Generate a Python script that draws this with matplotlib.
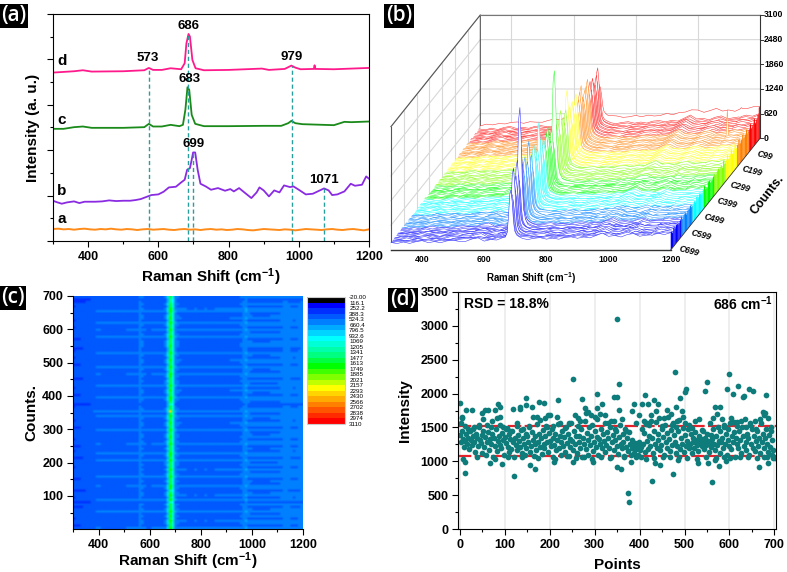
import numpy as np
import matplotlib
matplotlib.use('Agg')
import matplotlib.pyplot as plt
from matplotlib.colors import ListedColormap, BoundaryNorm
from matplotlib.ticker import MultipleLocator

plt.rcParams['font.family'] = ['Liberation Sans', 'DejaVu Sans']
plt.rcParams['font.weight'] = 'bold'
plt.rcParams['axes.labelweight'] = 'bold'
plt.rcParams['mathtext.fontset'] = 'custom'
plt.rcParams['mathtext.bf'] = 'Liberation Sans:bold'
plt.rcParams['mathtext.default'] = 'bf'
plt.rcParams['axes.linewidth'] = 0.8

FIG_W, FIG_H = 787, 572
AXIS_LABEL = 'Raman Shift (cm$^{-1}$)'

# (a) spectra
shift_a = list(range(300, 1201, 15))
curve_a = [36, 37, 35, 36, 34, 36, 37, 35, 34, 36, 35, 37, 35, 34, 36, 35, 33, 35, 36, 34, 35, 36, 34, 33, 35,
           36, 34, 35, 33, 35, 36, 34, 35, 33, 34, 36, 35, 33, 32, 34, 36, 35, 34, 33, 35, 34, 32, 34, 36, 35,
           34, 33, 35, 36, 34, 33, 35, 36, 34, 32, 35]
shift_b = [300, 310, 325, 340, 360, 375, 390, 420, 440, 460, 480, 500, 520, 535, 550, 565, 580, 600, 615, 630,
           650, 665, 675, 682, 690, 695, 699, 705, 712, 720, 735, 750, 770, 790, 805, 815, 830, 845, 865, 880,
           888, 900, 915, 930, 945, 958, 975, 985, 1000, 1020, 1040, 1060, 1072, 1085, 1095, 1110, 1130, 1148,
           1160, 1180, 1192, 1200]
curve_b = [121, 117, 112, 116, 119, 114, 118, 118, 119, 122, 120, 121, 121, 123, 126, 132, 138, 140, 148, 161,
           163, 176, 184, 214, 219, 244, 266, 266, 214, 172, 164, 154, 159, 151, 156, 149, 159, 146, 129, 146,
           161, 152, 134, 152, 146, 167, 162, 164, 154, 140, 142, 152, 158, 152, 138, 140, 149, 172,
           166, 169, 194, 187]
shift_c = [300, 330, 360, 385, 410, 500, 560, 573, 585, 610, 635, 660, 670, 677, 683, 688, 695, 705, 730, 800,
           900, 950, 970, 979, 990, 1010, 1100, 1130, 1150, 1200]
curve_c = [337, 337, 342, 344, 340, 340, 342, 352, 344, 344, 349, 345, 349, 394, 462, 454, 379, 352, 345, 345,
           346, 346, 354, 361, 354, 351, 348, 358, 357, 359]
shift_d = [300, 330, 360, 385, 410, 500, 560, 573, 585, 610, 635, 665, 675, 680, 686, 690, 697, 706, 730, 800,
           895, 915, 960, 979, 990, 1005, 1043, 1045, 1047, 1100, 1200]
curve_d = [506, 508, 510, 513, 509, 510, 513, 520, 514, 514, 519, 516, 534, 594, 622, 614, 544, 519, 513, 514,
           518, 514, 517, 527, 521, 516, 517, 528, 517, 516, 520]
band_shift = [573, 685, 700, 981, 1071]
band_top = [520, 622, 266, 527, 158]
peak_names = ['573', '686', '979', '683', '699', '1071']
peak_x = [569, 687, 981, 689, 700, 1072]
peak_y = [549, 646, 554, 486, 292, 184]
curve_names = ['a', 'b', 'c', 'd']
curve_name_y = [67, 149, 364, 541]

# (b) waterfall
wave_b = [300, 320, 340, 360, 380, 400, 420, 440, 460, 480, 500, 520, 540, 560, 580, 600, 620, 640, 660,
          668, 674, 678, 682, 686, 690, 694, 698, 704, 712, 724,
          740, 760, 780, 800, 820, 840, 860, 880, 900, 920, 940, 960, 980, 1000, 1020, 1040, 1060, 1080, 1100,
          1120, 1136, 1140, 1144, 1160, 1180, 1200]
base_b = [170, 175, 180, 185, 200, 205, 200, 205, 210, 215, 220, 225, 235, 250, 270, 245, 250, 265, 280,
          290, 300, 305, 310, 310, 310, 305, 300, 295, 290, 285,
          280, 280, 285, 285, 290, 295, 300, 300, 310, 315, 325, 350, 385, 355, 345, 345, 355, 365, 360,
          360, 380, 385, 388, 395, 400, 420]
peak_shape = [0, 0, 0, 0, 0, 0, 0, 0, 0, 0, 0, 0, 0, 0, 0, 0, 0, 0, .01,
              .03, .12, .45, .9, 1, .75, .35, .15, .07, .03, .01,
              0, 0, 0, 0, 0, 0, 0, 0, 0, 0, 0, 0, 0, 0, 0, 0, 0, 0, 0,
              0, 0, 0, 0, 0, 0, 0]
ripple_1 = [18, -12, 22, -20, 9, 30, -15, 6, -26, 14, 24, -9, -18, 26, 36, -22, 12, -14, 20,
            0, 0, 0, 0, 0, 0, 0, 0, 0, 8, -9,
            -18, 15, 26, -12, 9, -24, 18, 30, -15, 12, -20, 15, 40, -12, 20, -18, 32, 50, -15,
            12, 0, -20, 0, 24, -12, 18]
ripple_2 = [-15, 20, -9, 15, -24, 6, 26, -18, 12, -8, -20, 18, 30, -12, 15, 9, -26, 20, -6,
            0, 0, 0, 0, 0, 0, 0, 0, 0, -9, 12,
            20, -15, -9, 24, -18, 12, -20, -6, 26, -15, 18, -18, -30, 24, -15, 30, 65, -22, 15,
            -18, 0, 24, 0, -15, 20, -9]
ripple_3 = [6, 15, -20, -6, 24, -18, 9, 20, -12, -24, 12, 20, -9, 6, -15, -12, 24, -20, 9,
            0, 0, 0, 0, 0, 0, 0, 0, 0, 12, 6,
            -9, 6, -24, 15, 20, -9, -12, 18, -24, 20, -6, 36, 15, -20, 12, -9, -26, 45, 6,
            20, 0, -9, 0, -18, 9, -20]
peak_top_b = [1507, 1350, 1977, 1500, 1700, 2050, 1650, 3300, 2260, 1800,
              1600, 1900, 1500, 1700, 2170, 1550, 1750, 1400, 1926, 1600,
              1500, 1700, 2337, 1650, 1884, 1500, 1700, 1550, 1800, 1926,
              1600, 1500, 1750, 1400, 3140, 1500, 1650, 1800, 1500, 1943,
              1600, 1700, 1500, 1800, 2253, 1600, 1750, 1500, 1809, 1600,
              1700, 1876, 1500, 1650, 1800, 1926, 1600, 1500, 1700, 1750,
              1884, 1600, 1750, 1500, 1750, 1600, 1500, 1700, 1851, 1400, 1300]
level_b = [1.0, 1.06, .96, 1.08, .98, 1.12, 1.0, .96, 1.1, 1.14,
           1.0, 1.16, 1.06, .98, 1.14, 1.02, 1.2, 1.06, .98, 1.16,
           1.04, 1.2, 1.06, 1.24, 1.08, 1.0, 1.2, 1.26, 1.04, 1.02,
           1.2, 1.28, 1.1, 1.02, 1.22, 1.3, 1.08, 1.26, 1.34, 1.1,
           1.28, 1.1, 1.36, 1.14, 1.26, 1.4, 1.14, 1.3, 1.42, 1.16,
           1.32, 1.44, 1.2, 1.34, 1.46, 1.2, 1.34, 1.48, 1.24, 1.36,
           1.5, 1.24, 1.38, 1.52, 1.26, 1.4, 1.54, 1.28, 1.44, 1.52, 1.95]
count_b = list(range(0, 700, 10)) + [699]
band_colors_b = ['#0000ff', '#0080ff', '#00ffff', '#00ff00', '#80ff00', '#ffff00', '#ff8000', '#ff0000']
spike_trace, spike_wave, spike_height = 59, 1140, 650
raman_ticks_b = [400, 600, 800, 1000, 1200]
z_ticks_b = [0, 620, 1240, 1860, 2480, 3100]
count_names_b = ['C699', 'C599', 'C499', 'C399', 'C299', 'C199', 'C99']
count_pos_b = [0, 100, 200, 300, 400, 500, 600]

# (c) map
wave_c = list(range(300, 1201, 10))
mean_c = [400, 405, 405, 410, 420, 435, 450, 465, 480, 495, 495, 490, 490, 490, 490, 492, 492, 490, 490, 492,
          492, 495, 495, 495, 495, 495, 570, 520, 496, 494, 494, 495, 495, 495, 496, 498, 530, 800, 1580, 1150,
          620, 530, 505, 500, 500, 498, 498, 498, 500, 498, 496, 498, 500, 498, 498, 498, 500, 500, 500, 502,
          502, 502, 505, 505, 508, 508, 515, 600, 640, 540, 520, 515, 515, 515, 518, 518, 518, 518, 520, 525,
          525, 530, 545, 575, 570, 565, 545, 540, 545, 555, 575]
gain_c = [.06, -.05, .02, .05, -.04, .03, -.02, .08, .01, -.06,
          .02, -.16, .07, -.03, .05, .01, -.08, .03, .06, -.02,
          .01, -.05, .07, .02, -.02, .05, -.04, .02, -.01, .08,
          -.06, .03, .07, -.03, .01, -.05, .06, .02, -.04, .03,
          .01, -.02, .08, -.05, .02, .04, -.03, .01, .07, -.02,
          .1, .02, -.04, -.16, -.02, .03, .07, -.05, .01, .04,
          -.03, .08, -.01, .02, -.06, .03, .06, -.02, .01, .07,
          -.05, .02, .04, -.03, .01, .08, -.04, -.06, .03, .02,
          .01, -.05, .07, .02, -.02, .06, -.04, .02, .08, -.03,
          .04, .01, -.02, .07, .05, -.04, .02, -.08, -.14, .02]
spike_row_c, spike_col_c, spike_val_c = 50, 38, 2350
levels_c = [-20.00, 116.1, 252.2, 388.3, 524.3, 660.4, 796.5, 932.6, 1069, 1205, 1341, 1477, 1613, 1749, 1885,
            2021, 2157, 2293, 2430, 2566, 2702, 2838, 2974, 3110]
level_names_c = ['-20.00', '116.1', '252.2', '388.3', '524.3', '660.4', '796.5', '932.6', '1069', '1205', '1341',
                 '1477', '1613', '1749', '1885', '2021', '2157', '2293', '2430', '2566', '2702', '2838', '2974',
                 '3110']
colors_c = ['#000000', '#0000ff', '#0030ff', '#0058ff', '#0080ff', '#00aaff', '#00d4ff', '#00ffff', '#00ffd4',
            '#00ffaa', '#00ff80', '#00ff40', '#00ff00', '#40ff00', '#80ff00', '#c0ff00', '#ffff00', '#ffd400',
            '#ffaa00', '#ff8000', '#ff5500', '#ff2a00', '#ff0000']

# (d) intensity at 686 per point
cloud_y = [1390, 1280, 1450, 1330, 1210, 1520, 1300, 1400, 1260, 1350, 1180, 1440, 1320, 1240,
           1480, 1370, 1290, 1130, 1410, 1340, 1220, 1500, 1310, 1270, 1120, 1390, 1450, 1210,
           1360, 1090, 1280, 1430, 1170, 1330, 1510, 1250, 1400, 1060, 1340, 1220, 1470, 1150,
           1300, 1380, 1240, 1540, 1190, 1420, 1310, 1100, 1360, 1270, 1490, 1210, 1130, 1400,
           1330, 1180, 1440, 1280, 1070, 1350, 1240, 1520, 1160, 1390, 1300, 1210, 1460, 1120,
           1340, 1250, 1100, 1410, 1190, 1370, 1290, 1500, 1140, 1230, 1430, 1320, 1080, 1260,
           1380, 1170, 1550, 1290, 1400, 1210, 1340, 1110, 1460, 1250, 1190, 1370, 1520, 1280,
           1130, 1420, 1300, 1220, 1480, 1060, 1350, 1240, 1410, 1170, 1320, 1550, 1200, 1380,
           1100, 1290, 1450, 1230, 1360, 1140, 1500, 1270, 1410, 1080, 1330, 1210, 1570, 1300,
           1160, 1440, 1250, 1380, 1120, 1520, 1290, 1370, 1200, 1470, 1060, 1340, 1260, 1590,
           1180, 1420, 1310, 1100, 1500, 1240, 1380, 1530, 1150, 1290, 1450, 1210, 1360, 1620,
           1090, 1330, 1260, 1480, 1190, 1400, 1300, 1560, 1130, 1240, 1430, 1350, 1200, 1510,
           1070, 1280, 1390, 1600, 1170, 1320, 1450, 1230, 1110, 1360, 1540, 1260, 1190, 1410,
           1290, 1070, 1480, 1210, 1340, 1150, 1430, 1250, 1090, 1310, 1190, 1220, 1120, 1270,
           1180, 1240, 1100, 1290, 1160, 1210, 1060, 1480, 1250, 1420, 1140, 1550, 1300, 1180,
           1380, 1530, 1220, 1600, 1340, 1120, 1450, 1260, 1580, 1190, 1400, 1310, 1640, 1170,
           1240, 1480, 1360, 1100, 1540, 1280, 1420, 1200, 1660, 1330, 1150, 1460, 1240, 1570,
           1390, 1290, 1120, 1510, 1220, 1440, 1610, 1180, 1340, 1260, 1490, 1130, 1390, 1560,
           1230, 1300, 1470, 1190, 1250, 1410, 1120, 1350, 1280, 1200, 1430, 1310, 1240, 1150,
           1380, 1270, 1330, 1220, 1460, 1290, 1180, 1350, 1240, 1410, 1300, 1140, 1270, 1390,
           1210, 1330, 1480, 1260, 1170, 1370, 1240, 1510, 1300, 1120, 1440, 1280, 1350, 1190,
           1530, 1260, 1400, 1100, 1320, 1470, 1230, 1560, 1180, 1380, 1290, 1430, 1070, 1340,
           1580, 1250, 1190, 1450, 1310, 1120, 1500, 1370, 1230, 1620, 1280, 1160, 1410, 1340,
           1090, 1530, 1260, 1470, 1200, 1380, 1600, 1150, 1300, 1440, 1230, 1350, 1120, 1570,
           1280, 1400, 1190, 1060, 1340, 1480, 1250, 1130, 1390, 1210, 1450, 1090, 1310, 1170]
outer_x = [0, 5, 5, 11, 11, 13, 27, 48, 56, 63, 84, 89, 78, 82, 89, 67, 93, 117, 121, 134, 134, 148, 148, 160, 163,
           171, 176, 186, 156, 167, 189, 197, 200, 219, 215, 251, 256, 271, 210, 251, 278, 286, 297, 304, 304,
           317, 323, 343, 349, 349, 354, 353, 349, 359, 375, 376, 381, 382, 388, 405, 412, 419, 427, 433, 442,
           434, 445, 475, 479, 481, 490, 494, 501, 503, 485, 529, 552, 546, 549, 562, 568, 578, 569, 577, 594,
           599, 607, 593, 620, 631, 633, 644, 653, 666, 681, 687, 674, 679, 701]
outer_y = [1858, 1657, 1632, 993, 821, 1755, 1755, 1706, 1755, 1755, 1853, 1804, 1755, 1632, 1657, 968, 954, 1765,
           787, 1804, 1770, 1937, 1829, 1804, 1657, 1647, 1878, 1868, 944, 885, 1642, 1681, 1681, 1912, 1657, 2212,
           1681, 1917, 993, 993, 1790, 1730, 993, 2001, 1780, 1844, 1681, 1952, 1952, 3107, 2148, 1755, 919, 880,
           531, 393, 983, 1740, 1839, 1839, 1986, 1839, 703, 1902, 1839, 968, 944, 811, 2320, 1804, 1937, 1740,
           2026, 2065, 1018, 978, 978, 2045, 2173, 688, 1804, 1804, 1018, 929, 2065, 2291, 2001, 1003, 2114, 1942,
           1967, 2065, 2035, 910, 1981, 968, 1730, 1706, 1042]
upper_x = [3, 17, 31, 43, 52, 61, 71, 95, 103, 111, 127, 141, 153, 179, 193, 207, 223, 233, 243, 263, 268, 281, 291,
           301, 311, 329, 337, 345, 361, 369, 393, 399, 409, 417, 425, 437, 449, 455, 461, 469, 473, 483, 497, 509,
           517, 523, 533, 541, 557, 563, 573, 583, 589, 603, 611, 617, 625, 637, 647, 659, 669, 677, 685, 693,
           7, 37, 77, 107, 137, 173, 211, 239, 259, 277, 295, 315, 333, 365, 391, 415, 431, 451, 467, 487, 505,
           527, 547, 571, 587, 601, 623, 641, 661, 683, 697]
upper_y = [1560, 1470, 1500, 1530, 1620, 1540, 1600, 1510, 1480, 1450, 1560, 1470, 1520, 1610, 1500, 1520, 1560, 1490,
           1570, 1640, 1600, 1720, 1680, 1650, 1700, 1570, 1600, 1480, 1620, 1450, 1560, 1680, 1600, 1570, 1680,
           1740, 1520, 1640, 1760, 1700, 1540, 1590, 1650, 1540, 1490, 1600, 1620, 1440, 1560, 1640, 1700, 1620,
           1500, 1640, 1580, 1520, 1600, 1500, 1560, 1470, 1620, 1680, 1640, 1500,
           1040, 1060, 1040, 1060, 1070, 1050, 1040, 1080, 1050, 1070, 1040, 1060, 1050, 1080, 1060, 1040, 1050,
           1070, 1060, 1070, 1050, 1040, 1070, 1050, 1060, 1050, 1070, 1060, 1050, 1060, 1050]
rsd_levels = [1520, 1080]


def add_axes_px(fig, left, top, right, bottom):
    return fig.add_axes([left / FIG_W, 1 - bottom / FIG_H, (right - left) / FIG_W, (bottom - top) / FIG_H])


def style_ticks(ax, size=9):
    ax.tick_params(which='major', direction='out', length=4, width=0.8, labelsize=size, pad=3)
    ax.tick_params(which='minor', direction='out', length=2, width=0.8)


def panel_tag(fig, x, y, name):
    fig.text(x / FIG_W, 1 - y / FIG_H, name, color='white', fontsize=15, family='Open Sans', weight='semibold',
             ha='center', va='center', bbox=dict(facecolor='black', edgecolor='none', pad=1.2))


fig = plt.figure(figsize=(FIG_W / 100, FIG_H / 100), dpi=100)

# panel a
ax = add_axes_px(fig, 53, 14, 369, 241)
ax.plot(shift_a, curve_a, color='#ff8c1a', lw=1.4)
ax.plot(shift_b, curve_b, color='#8a2be2', lw=1.3)
ax.plot(shift_c, curve_c, color='#1a8a1a', lw=1.3)
ax.plot(shift_d, curve_d, color='#ff1a8c', lw=1.3)
ax.vlines(band_shift, 0, band_top, color='#2a9d9d', lw=1, linestyles=(0, (3, 2)))
for name, x, y in zip(peak_names, peak_x, peak_y):
    ax.text(x, y, name, fontsize=9.5, ha='center', va='center')
for name, y in zip(curve_names, curve_name_y):
    ax.text(325, y, name, fontsize=11, ha='center', va='center')
ax.set_xlim(300, 1200)
ax.set_ylim(0, 682)
ax.xaxis.set_major_locator(MultipleLocator(200))
ax.xaxis.set_minor_locator(MultipleLocator(100))
ax.yaxis.set_major_locator(MultipleLocator(136.4))
ax.yaxis.set_minor_locator(MultipleLocator(68.2))
ax.set_yticklabels([])
style_ticks(ax)
ax.set_xlabel(AXIS_LABEL, fontsize=11, labelpad=3)
ax.set_ylabel('Intensity (a. u.)', fontsize=11, labelpad=2)

# panel b, oblique view drawn in pixel space of its own axes
ax = add_axes_px(fig, 385, 0, 787, 290)
ax.set_xlim(0, 402)
ax.set_ylim(290, 0)
ax.axis('off')


def project(raman, count, z):
    raman, count, z = np.asarray(raman, float), np.asarray(count, float), np.asarray(z, float)
    return 6 + (raman - 300) * 0.3108 + count * 0.1276, 250 - count * 0.1595 - z * 0.0398


def line3d(r, c, z, **kw):
    px, py = project(r, c, z)
    ax.plot(px, py, **kw)


def draw_trace(count, z, layer):
    band = min(int(count) * 8 // 700, 7)
    px, py = project(wave_arr, count, z)
    bx, by = project(wave_arr, count, np.zeros_like(z))
    ax.fill(np.r_[px, bx[::-1]], np.r_[py, by[::-1]], color='white', lw=0, zorder=layer)
    ax.plot(px, py, color=band_colors_b[band], lw=0.38, alpha=0.8, zorder=layer)


grid_kw = dict(color='#d8d8d8', lw=0.8, zorder=1)
for z in z_ticks_b[1:]:
    line3d([300, 300, 1200], [0, 700, 700], [z, z, z], **grid_kw)
for r in [400, 600, 800, 1000]:
    line3d([r, r], [700, 700], [0, 3100], **grid_kw)
for c in range(100, 700, 100):
    line3d([300, 300], [c, c], [0, 3100], **grid_kw)
line3d([300, 300, 300], [0, 700, 700], [3100, 3100, 0], color='#555555', lw=0.8, zorder=2)
line3d([300, 1200], [700, 700], [3100, 3100], color='#777777', lw=0.8, zorder=2)
line3d([300, 300], [0, 0], [0, 3100], color='#555555', lw=0.8, zorder=2)

ripples = [ripple_1, ripple_2, ripple_3]
wave_arr = np.array(wave_b, float)
base_arr = np.array(base_b, float)
shape_arr = np.array(peak_shape)
for i in range(len(count_b) - 1, -1, -1):
    count = count_b[i]
    layer = 10 + (700 - count) * 0.01
    if i < len(count_b) - 2:
        # extra trace half way to the next one back, keeps the ridge dense
        lvl = (level_b[i] + level_b[i + 1]) / 2
        top = 0.9 * min(peak_top_b[i], peak_top_b[i + 1])
        z = base_arr * lvl + np.array(ripples[(i + 1) % 3], float) + (top - 310 * lvl) * shape_arr
        draw_trace(count + 5, z, layer - 0.05)
    z = base_arr * level_b[i] + np.array(ripples[i % 3], float) + (peak_top_b[i] - 310 * level_b[i]) * shape_arr
    if i == spike_trace:
        z[wave_b.index(spike_wave)] += spike_height
    draw_trace(count, z, layer)
    # coloured end wall
    if i > 0:
        band = min(count * 8 // 700, 7)
        next_count = count_b[i - 1]
        wx, wy = project([1200, 1200, 1200, 1200], [next_count, count, count, next_count], [0, 0, z[-1], z[-1]])
        ax.fill(wx, wy, color=band_colors_b[band], lw=0, zorder=20)

line3d([300, 1200], [0, 0], [0, 0], color='#333333', lw=1, zorder=21)
line3d([1200, 1200], [0, 700], [0, 0], color='#333333', lw=0.6, zorder=21)
line3d([1200, 1200], [700, 700], [0, 3100], color='#333333', lw=0.8, zorder=21)
for r in raman_ticks_b:
    px, py = project(r, 0, 0)
    ax.text(px, py + 10, str(r), fontsize=6.2, ha='center', va='center')
for z in z_ticks_b:
    px, py = project(1200, 700, z)
    ax.plot([px, px + 3], [py, py], color='#333333', lw=0.7, zorder=21)
    ax.text(px + 4, py, str(z), fontsize=6.2, ha='left', va='center')
for name, c in zip(count_names_b, count_pos_b):
    px, py = project(1200, c, 0)
    ax.text(px + 18, py + 1, name, fontsize=6.2, style='italic', rotation=-14, ha='center', va='center')
ax.text(382, 195, 'Counts.', fontsize=9, rotation=52, ha='center', va='center')
ax.text(146, 278, AXIS_LABEL, fontsize=7, ha='center', va='center')

# panel c
ax = add_axes_px(fig, 73, 296, 303, 529)
cmap_c = ListedColormap(colors_c)
norm_c = BoundaryNorm(levels_c, cmap_c.N)
map_c = np.outer(1 + np.array(gain_c), np.array(mean_c))
map_c[spike_row_c, spike_col_c] = spike_val_c
im = ax.imshow(map_c, origin='lower', extent=[wave_c[0], wave_c[-1], 1, 700], aspect='auto', cmap=cmap_c, norm=norm_c,
               interpolation='bilinear', interpolation_stage='rgba')
ax.xaxis.set_major_locator(MultipleLocator(200))
ax.xaxis.set_minor_locator(MultipleLocator(100))
ax.yaxis.set_major_locator(MultipleLocator(100))
ax.yaxis.set_minor_locator(MultipleLocator(50))
style_ticks(ax)
ax.spines['top'].set_visible(False)
ax.spines['right'].set_visible(False)
ax.set_xlabel(AXIS_LABEL, fontsize=11, labelpad=0)
ax.set_ylabel('Counts.', fontsize=11, labelpad=3)

cax = add_axes_px(fig, 307, 297, 345, 424)
cb = fig.colorbar(im, cax=cax, boundaries=levels_c, ticks=levels_c, spacing='uniform')
cax.invert_yaxis()
cb.outline.set_edgecolor('#cccccc')
cb.ax.set_yticklabels(level_names_c, fontsize=4.5, fontweight='normal')
cb.ax.tick_params(length=0, pad=3)

# panel d
ax = add_axes_px(fig, 458, 292, 776, 529)
ax.grid(axis='x', color='#ebebeb', lw=1.2)
ax.set_axisbelow(True)
cloud_x = list(range(0, 700, 2))
ax.scatter(cloud_x, cloud_y, s=17, color='#0e7c7b', lw=0, zorder=2)
ax.scatter(outer_x, outer_y, s=17, color='#0e7c7b', lw=0, zorder=2)
ax.scatter(upper_x, upper_y, s=17, color='#0e7c7b', lw=0, zorder=2)
for level in rsd_levels:
    ax.axhline(level, color='#e8202a', lw=1.6, ls=(0, (6, 1.5)), zorder=1.5)
ax.set_xlim(-4.5, 703.8)
ax.set_ylim(0, 3500)
ax.xaxis.set_major_locator(MultipleLocator(100))
ax.xaxis.set_minor_locator(MultipleLocator(50))
ax.yaxis.set_major_locator(MultipleLocator(500))
ax.yaxis.set_minor_locator(MultipleLocator(250))
style_ticks(ax)
ax.set_xlabel('Points', fontsize=11, labelpad=5)
ax.set_ylabel('Intensity', fontsize=11, labelpad=6)
ax.text(8, 3320, 'RSD = 18.8%', fontsize=10, ha='left', va='center')
ax.text(697, 3320, '686 cm$^{-1}$', fontsize=10, ha='right', va='center')

panel_tag(fig, 14, 16, '(a)')
panel_tag(fig, 399, 16, '(b)')
panel_tag(fig, 13, 298, '(c)')
panel_tag(fig, 403, 300, '(d)')

fig.savefig('out.png', dpi=100)
